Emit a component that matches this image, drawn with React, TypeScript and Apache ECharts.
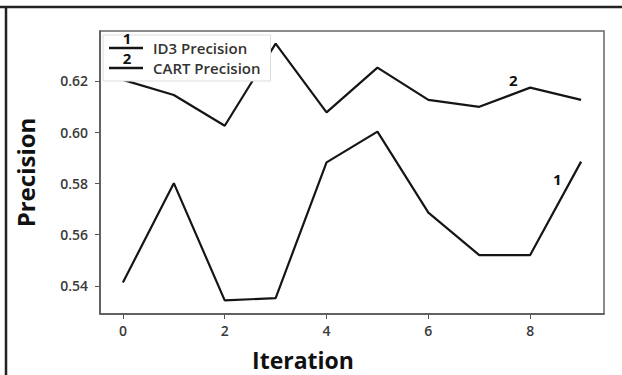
import React, { useEffect, useRef } from "react";
import * as echarts from "echarts";

const iterations = [0, 1, 2, 3, 4, 5, 6, 7, 8, 9];
const id3Precision = [0.5413, 0.5801, 0.5343, 0.5352, 0.5882, 0.6002, 0.5686, 0.552, 0.552, 0.5885];
const cartPrecision = [0.6204, 0.6145, 0.6025, 0.6346, 0.6077, 0.6252, 0.6126, 0.6099, 0.6174, 0.6126];
const xTicks = [0, 2, 4, 6, 8];
const yTicks = [0.54, 0.56, 0.58, 0.6, 0.62];
const seriesNames = ["ID3 Precision", "CART Precision"];
const xTitle = "Iteration";
const yTitle = "Precision";

export default function App() {
  const ref = useRef<HTMLDivElement>(null);
  useEffect(() => {
    document.body.style.margin = "0";
    const chart = echarts.init(ref.current!, null, { renderer: "svg" });
    const font = "'Open Sans', 'DejaVu Sans', sans-serif";
    const lineStyle = { color: "#151515", width: 2.2 };
    const mkSeries = (name: string, vals: number[], mark: string, coord: number[]) => ({
      name,
      type: "line",
      data: iterations.map((x, i) => [x, vals[i]]),
      symbol: "none",
      lineStyle,
      itemStyle: { color: "#151515" },
      markPoint: {
        symbol: "circle",
        symbolSize: 0,
        data: [
          {
            coord,
            label: {
              show: true,
              formatter: mark,
              position: "inside",
              fontFamily: font,
              fontWeight: "bold",
              fontSize: 15,
              color: "#111",
            },
          },
        ],
      },
    });
    chart.setOption({
      animation: false,
      backgroundColor: "#fff",
      grid: {
        left: 100,
        top: 31,
        right: 18,
        bottom: 61,
        show: true,
        borderColor: "#666",
        borderWidth: 1.5,
      },
      xAxis: {
        type: "value",
        min: -0.45,
        max: 9.45,
        splitLine: { show: false },
        axisLine: { show: true, onZero: false, lineStyle: { color: "#555", width: 1.5 } },
        axisTick: { show: true, customValues: xTicks, length: 5, lineStyle: { color: "#555" } },
        axisLabel: {
          customValues: xTicks,
          margin: 9,
          fontFamily: font,
          fontSize: 14,
          fontWeight: 600,
          color: "#3a3a3a",
        },
      },
      yAxis: {
        type: "value",
        min: 0.529,
        max: 0.6395,
        splitLine: { show: false },
        axisLine: { show: true, onZero: false, lineStyle: { color: "#555", width: 1.5 } },
        axisTick: { show: true, customValues: yTicks, length: 5, lineStyle: { color: "#555" } },
        axisLabel: {
          customValues: yTicks,
          margin: 12,
          fontFamily: font,
          fontSize: 14,
          fontWeight: 600,
          color: "#3a3a3a",
          formatter: (v: number) => v.toFixed(2),
        },
        name: yTitle,
        nameLocation: "middle",
        nameRotate: 90,
        nameGap: 63,
        nameTextStyle: { fontFamily: font, fontSize: 24, fontWeight: "bold", color: "#111" },
      },
      legend: {
        show: true,
        orient: "vertical",
        left: 103,
        top: 35,
        itemWidth: 34,
        itemHeight: 2.4,
        itemGap: 0,
        padding: [3, 10, 3, 6],
        backgroundColor: "#fff",
        borderColor: "#ddd",
        borderWidth: 1,
        icon: "rect",
        itemStyle: { color: "#151515" },
        data: seriesNames,
        textStyle: {
          fontFamily: font,
          fontSize: 15,
          fontWeight: 600,
          lineHeight: 20,
          color: "#333",
          padding: [0, 0, 0, 5],
        },
      },
      series: [
        mkSeries(seriesNames[0], id3Precision, "1", [8.53, 0.5816]),
        mkSeries(seriesNames[1], cartPrecision, "2", [7.67, 0.6204]),
      ],
      graphic: [
        { type: "line", shape: { x1: 0, y1: 7, x2: 622, y2: 7 }, style: { stroke: "#222", lineWidth: 2.5 } },
        { type: "line", shape: { x1: 6, y1: 7, x2: 6, y2: 375 }, style: { stroke: "#222", lineWidth: 2.5 } },
        {
          type: "text",
          x: 303,
          y: 360,
          style: {
            text: xTitle,
            font: `bold 23px ${font}`,
            fill: "#111",
            textAlign: "center",
            textVerticalAlign: "middle",
          },
        },
        {
          type: "text",
          x: 127,
          y: 38,
          z: 100,
          style: { text: "1", font: `bold 15px ${font}`, fill: "#111", textAlign: "center", textVerticalAlign: "middle" },
        },
        {
          type: "text",
          x: 127,
          y: 58,
          z: 100,
          style: { text: "2", font: `bold 15px ${font}`, fill: "#111", textAlign: "center", textVerticalAlign: "middle" },
        },
      ],
    });
    return () => chart.dispose();
  }, []);
  return <div ref={ref} style={{ width: 622, height: 375 }} />;
}
